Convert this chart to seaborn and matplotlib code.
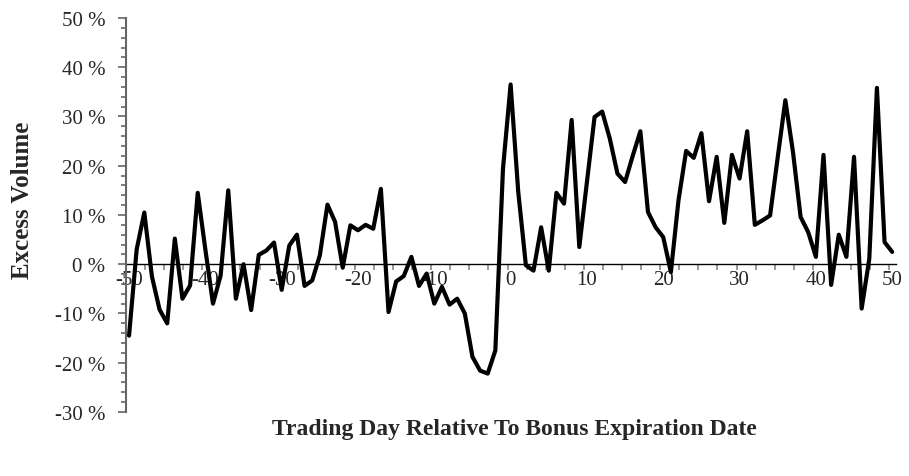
import numpy as np
import pandas as pd
import matplotlib
matplotlib.use('Agg')
import matplotlib.pyplot as plt
import seaborn as sns
from matplotlib.ticker import FuncFormatter, MultipleLocator, FixedLocator

sns.set_style('white')
plt.rcParams['font.family'] = ['Liberation Serif', 'DejaVu Serif']
plt.rcParams['axes.unicode_minus'] = False

# trading day relative to bonus expiration (-50 .. 50)
days = list(range(-50, 51))

# excess volume in percent
excess_volume = [
    -14.5, 3.0, 10.5, -2.5, -9.2, -12.0, 5.2, -7.0, -4.3, 14.5,      # -50 .. -41
    3.0, -8.0, -2.3, 15.0, -7.0, 0.0, -9.3, 1.9, 2.8, 4.4,           # -40 .. -31
    -5.2, 3.8, 6.0, -4.4, -3.3, 1.8, 12.1, 8.6, -0.7, 7.9,           # -30 .. -21
    6.9, 8.0, 7.2, 15.3, -9.7, -3.5, -2.4, 1.5, -4.4, -1.9,          # -20 .. -11
    -8.0, -4.6, -8.2, -7.0, -10.0, -18.8, -21.6, -22.2, -17.5, 19.4, # -10 .. -1
    36.5, 14.7, -0.2, -1.3, 7.5, -1.3, 14.5, 12.3, 29.3, 3.5,        # 0 .. 9
    16.7, 29.9, 31.0, 25.5, 18.4, 16.7, 22.0, 27.0, 10.6, 7.5,       # 10 .. 19
    5.5, -1.6, 13.0, 23.0, 21.6, 26.6, 12.8, 21.8, 8.4, 22.2,        # 20 .. 29
    17.4, 27.0, 8.0, 8.9, 9.9, 21.7, 33.3, 22.8, 9.6, 6.5,           # 30 .. 39
    1.5, 22.2, -4.2, 6.0, 1.5, 21.8, -9.0, 1.1, 35.8, 4.5,           # 40 .. 49
    2.5,                                                             # 50
]

x_labels = [-50, -40, -30, -20, -10, 0, 10, 20, 30, 40, 50]
y_ticks = [-30, -20, -10, 0, 10, 20, 30, 40, 50]

df = pd.DataFrame({'day': days, 'excess': excess_volume})

fig = plt.figure(figsize=(9.09, 4.77), dpi=100)
ax = fig.add_subplot(111)
fig.subplots_adjust(left=0.1386, right=0.9857, bottom=0.1342, top=0.9602)

sns.lineplot(data=df, x='day', y='excess', color='black', linewidth=3, ax=ax)

ax.set_xlim(-50.4, 50.5)
ax.set_ylim(-30, 50)

# axes look: left axis plus a horizontal axis through zero
for s in ['top', 'right']:
    ax.spines[s].set_visible(False)
ax.spines['left'].set_color('#666666')
ax.spines['left'].set_linewidth(1.5)
ax.spines['bottom'].set_position(('data', 0))
ax.spines['bottom'].set_color('black')
ax.spines['bottom'].set_linewidth(1.0)
ax.spines['bottom'].set_zorder(1)

# y ticks
ax.yaxis.set_major_locator(FixedLocator(y_ticks))
ax.yaxis.set_minor_locator(MultipleLocator(2))
ax.yaxis.set_major_formatter(FuncFormatter(lambda v, p: f'{v:.0f} %'))
ax.tick_params(axis='y', which='major', direction='out', length=5.8, width=1.2,
               color='#666666', pad=9, labelsize=15, left=True)
ax.tick_params(axis='y', which='minor', direction='out', length=3.6, width=1.2,
               color='#666666', left=True)

# x ticks: labels every 10 days, tick marks every 2.5 days
ax.xaxis.set_major_locator(FixedLocator(x_labels))
ax.xaxis.set_minor_locator(FixedLocator(np.arange(-47.9, 50.4, 2.5)))
ax.tick_params(axis='x', which='major', length=0, pad=4, labelsize=15, bottom=True)
ax.tick_params(axis='x', which='minor', direction='out', length=4.3, width=1.2,
               color='#888888', bottom=True)

ax.set_xlabel('Trading Day Relative To Bonus Expiration Date', fontsize=17, fontweight='bold')
ax.set_ylabel('Excess Volume', fontsize=18, fontweight='bold')
ax.xaxis.set_label_coords(0.504, -0.015)
ax.yaxis.set_label_coords(-0.12, 0.54)

ax.grid(False)
fig.savefig('out.png', dpi=100)
